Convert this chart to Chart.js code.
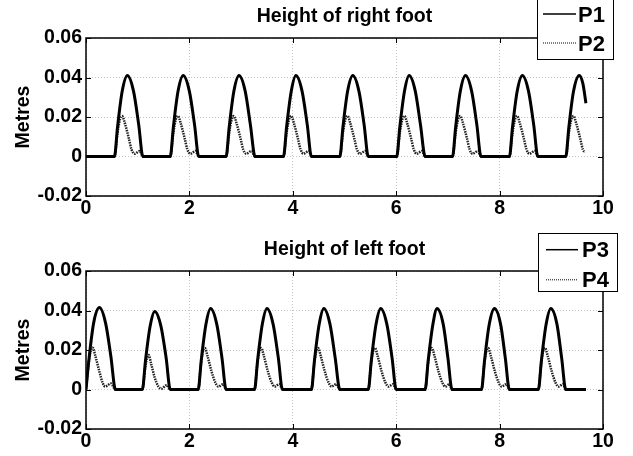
<!DOCTYPE html>
<html>
<head>
<meta charset="utf-8">
<title>Height of feet</title>
<script src="https://cdn.jsdelivr.net/npm/chart.js@4.4.0/dist/chart.umd.min.js"></script>
<style>
  html, body { margin: 0; padding: 0; background: #fff; overflow: hidden; }
  .panel { position: absolute; left: 0; width: 633px; height: 228px; }
  #top { top: 0; }
  #bottom { top: 233px; }
</style>
</head>
<body>
<div class="panel" id="top"><canvas id="rightChart" width="633" height="228"></canvas></div>
<div class="panel" id="bottom"><canvas id="leftChart" width="633" height="228"></canvas></div>
<script>
// x ticks (s) and y ticks (m)
const xTicks = [0, 2, 4, 6, 8, 10];
const yTicks = [-0.02, 0, 0.02, 0.04, 0.06];

// Right foot, P1 (solid) and P2 (dotted) - [time, height]
const rightP1 = [
  [0, 0],
  [0.55, 0], [0.61, 0.015], [0.70, 0.033], [0.80, 0.041], [0.92, 0.033], [1.02, 0.016], [1.10, 0],
  [1.63, 0], [1.69, 0.015], [1.78, 0.033], [1.88, 0.041], [2.00, 0.033], [2.10, 0.016], [2.18, 0],
  [2.71, 0], [2.77, 0.015], [2.86, 0.033], [2.96, 0.041], [3.08, 0.033], [3.18, 0.016], [3.27, 0],
  [3.82, 0], [3.88, 0.015], [3.97, 0.033], [4.06, 0.041], [4.18, 0.033], [4.28, 0.016], [4.36, 0],
  [4.91, 0], [4.97, 0.015], [5.06, 0.033], [5.16, 0.041], [5.28, 0.033], [5.38, 0.016], [5.46, 0],
  [6.01, 0], [6.07, 0.015], [6.16, 0.033], [6.25, 0.041], [6.37, 0.033], [6.47, 0.016], [6.56, 0],
  [7.09, 0], [7.15, 0.015], [7.24, 0.033], [7.34, 0.041], [7.46, 0.033], [7.56, 0.016], [7.64, 0],
  [8.19, 0], [8.25, 0.015], [8.34, 0.033], [8.44, 0.041], [8.56, 0.033], [8.66, 0.016], [8.74, 0],
  [9.28, 0], [9.34, 0.015], [9.43, 0.033], [9.54, 0.041], [9.61, 0.037], [9.67, 0.027]
];
const rightP2 = [
  [0, 0],
  [0.55, 0], [0.61, 0.012], [0.66, 0.019], [0.70, 0.0205], [0.75, 0.017], [0.83, 0.009], [0.88, 0.0036], [0.94, 0.0014], [1.04, 0.0028], [1.10, 0],
  [1.63, 0], [1.69, 0.012], [1.74, 0.019], [1.78, 0.0205], [1.83, 0.017], [1.91, 0.009], [1.96, 0.0036], [2.02, 0.0014], [2.12, 0.0028], [2.18, 0],
  [2.71, 0], [2.77, 0.012], [2.82, 0.019], [2.86, 0.0205], [2.91, 0.017], [2.99, 0.009], [3.04, 0.0036], [3.10, 0.0014], [3.20, 0.0028], [3.27, 0],
  [3.82, 0], [3.88, 0.012], [3.93, 0.019], [3.97, 0.0205], [4.02, 0.017], [4.10, 0.009], [4.15, 0.0036], [4.21, 0.0014], [4.31, 0.0028], [4.36, 0],
  [4.91, 0], [4.97, 0.012], [5.02, 0.019], [5.06, 0.0205], [5.11, 0.017], [5.19, 0.009], [5.24, 0.0036], [5.30, 0.0014], [5.40, 0.0028], [5.46, 0],
  [6.01, 0], [6.07, 0.012], [6.12, 0.019], [6.16, 0.0205], [6.21, 0.017], [6.29, 0.009], [6.34, 0.0036], [6.40, 0.0014], [6.50, 0.0028], [6.56, 0],
  [7.09, 0], [7.15, 0.012], [7.20, 0.019], [7.24, 0.0205], [7.29, 0.017], [7.37, 0.009], [7.42, 0.0036], [7.48, 0.0014], [7.58, 0.0028], [7.64, 0],
  [8.19, 0], [8.25, 0.012], [8.30, 0.019], [8.34, 0.0205], [8.39, 0.017], [8.47, 0.009], [8.52, 0.0036], [8.58, 0.0014], [8.68, 0.0028], [8.74, 0],
  [9.28, 0], [9.34, 0.012], [9.39, 0.019], [9.43, 0.0205], [9.48, 0.017], [9.56, 0.009], [9.61, 0.0036], [9.65, 0.002]
];

// Left foot, P3 (solid) and P4 (dotted)
const leftP3 = [
  [0, 0], [0.06, 0.016], [0.15, 0.034], [0.26, 0.0415], [0.38, 0.0335], [0.48, 0.017], [0.57, 0],
  [1.09, 0], [1.15, 0.0145], [1.24, 0.032], [1.33, 0.0395], [1.45, 0.032], [1.55, 0.016], [1.63, 0],
  [2.17, 0], [2.23, 0.015], [2.32, 0.033], [2.41, 0.041], [2.53, 0.033], [2.63, 0.016], [2.71, 0],
  [3.26, 0], [3.32, 0.015], [3.41, 0.033], [3.50, 0.041], [3.62, 0.033], [3.72, 0.016], [3.80, 0],
  [4.36, 0], [4.42, 0.015], [4.51, 0.033], [4.60, 0.041], [4.72, 0.033], [4.82, 0.016], [4.91, 0],
  [5.46, 0], [5.52, 0.015], [5.61, 0.033], [5.70, 0.041], [5.82, 0.033], [5.92, 0.016], [6.00, 0],
  [6.56, 0], [6.62, 0.015], [6.71, 0.033], [6.79, 0.041], [6.91, 0.033], [7.00, 0.016], [7.08, 0],
  [7.65, 0], [7.71, 0.015], [7.80, 0.033], [7.90, 0.041], [8.02, 0.033], [8.11, 0.016], [8.19, 0],
  [8.75, 0], [8.81, 0.015], [8.90, 0.033], [8.99, 0.041], [9.11, 0.033], [9.20, 0.016], [9.28, 0],
  [9.67, 0]
];
const leftP4 = [
  [0, 0], [0.05, 0.013], [0.09, 0.0195], [0.13, 0.0212], [0.18, 0.017], [0.26, 0.009], [0.32, 0.0035], [0.37, 0.0015], [0.48, 0.003], [0.57, 0],
  [1.09, 0], [1.14, 0.010], [1.18, 0.016], [1.21, 0.0175], [1.26, 0.013], [1.33, 0.006], [1.40, 0.0015], [1.46, 0.0004], [1.56, 0.0022], [1.63, 0],
  [2.17, 0], [2.22, 0.012], [2.26, 0.019], [2.30, 0.021], [2.35, 0.017], [2.43, 0.009], [2.50, 0.0036], [2.56, 0.0015], [2.65, 0.0027], [2.71, 0],
  [3.26, 0], [3.31, 0.012], [3.35, 0.019], [3.39, 0.021], [3.44, 0.017], [3.52, 0.009], [3.59, 0.0036], [3.65, 0.0015], [3.74, 0.0027], [3.80, 0],
  [4.36, 0], [4.41, 0.012], [4.45, 0.019], [4.49, 0.021], [4.54, 0.017], [4.62, 0.009], [4.69, 0.0036], [4.75, 0.0015], [4.84, 0.0027], [4.91, 0],
  [5.46, 0], [5.51, 0.012], [5.55, 0.019], [5.59, 0.021], [5.64, 0.017], [5.72, 0.009], [5.79, 0.0036], [5.85, 0.0015], [5.94, 0.0027], [6.00, 0],
  [6.56, 0], [6.61, 0.012], [6.65, 0.019], [6.69, 0.021], [6.74, 0.017], [6.82, 0.009], [6.89, 0.0036], [6.95, 0.0015], [7.03, 0.0027], [7.08, 0],
  [7.65, 0], [7.70, 0.012], [7.74, 0.019], [7.78, 0.021], [7.83, 0.017], [7.91, 0.009], [7.98, 0.0036], [8.04, 0.0015], [8.13, 0.0027], [8.19, 0],
  [8.75, 0], [8.80, 0.012], [8.84, 0.019], [8.88, 0.021], [8.93, 0.017], [9.01, 0.009], [9.08, 0.0036], [9.14, 0.0015], [9.23, 0.0027], [9.28, 0],
  [9.67, 0]
];

const FONT = '"Liberation Sans", Arial, sans-serif';

// box around the plot + inward tick marks (matlab style)
const framePlugin = {
  id: 'frame',
  afterDatasetsDraw(chart) {
    const { ctx, chartArea: a, scales: { x, y } } = chart;
    ctx.save();
    ctx.strokeStyle = '#000';
    ctx.lineWidth = 1;
    ctx.beginPath();
    x.ticks.forEach(t => {
      const px = Math.round(x.getPixelForValue(t.value)) + 0.5;
      ctx.moveTo(px, a.bottom); ctx.lineTo(px, a.bottom - 5);
      ctx.moveTo(px, a.top); ctx.lineTo(px, a.top + 5);
    });
    y.ticks.forEach(t => {
      const py = Math.round(y.getPixelForValue(t.value)) + 0.5;
      ctx.moveTo(a.left, py); ctx.lineTo(a.left + 5, py);
      ctx.moveTo(a.right, py); ctx.lineTo(a.right - 5, py);
    });
    ctx.stroke();
    ctx.lineWidth = 1.5;
    ctx.strokeRect(a.left, a.top, a.right - a.left, a.bottom - a.top);
    ctx.restore();
  }
};

// boxed legend sitting over the top-right corner
const boxLegend = {
  id: 'boxLegend',
  afterDraw(chart, args, opts) {
    const ctx = chart.ctx;
    ctx.save();
    ctx.fillStyle = '#fff';
    ctx.fillRect(opts.x, opts.y, opts.w, opts.h);
    ctx.strokeStyle = '#000';
    ctx.lineWidth = 1;
    ctx.strokeRect(opts.x + 0.5, opts.y + 0.5, opts.w, opts.h);
    chart.data.datasets.forEach((ds, i) => {
      const ly = opts.rows[i];
      ctx.beginPath();
      ctx.strokeStyle = i === 0 ? '#000' : '#555';
      ctx.lineWidth = 1.5;
      ctx.setLineDash(i === 0 ? [] : [1, 1]);
      ctx.moveTo(opts.lineX1, ly);
      ctx.lineTo(opts.lineX2, ly);
      ctx.stroke();
      ctx.setLineDash([]);
      ctx.fillStyle = '#000';
      ctx.font = 'bold 22px ' + FONT;
      ctx.textBaseline = 'middle';
      ctx.textAlign = 'left';
      ctx.fillText(ds.label, opts.textX, ly + 1.5);
    });
    ctx.restore();
  }
};

function toXY(arr) {
  return arr.map(p => ({ x: p[0], y: p[1] }));
}

function buildChart(canvasId, titleText, solid, dotted, names, legendOpts) {
  const canvas = document.getElementById(canvasId);
  const tickFont = { family: FONT, size: 19.5, weight: 'bold' };
  return new Chart(canvas.getContext('2d'), {
    type: 'line',
    data: {
      datasets: [{
        label: names[0],
        data: toXY(solid),
        borderColor: '#000',
        borderWidth: 3,
        pointRadius: 0,
        cubicInterpolationMode: 'monotone',
        fill: false
      }, {
        label: names[1],
        data: toXY(dotted),
        borderColor: '#222',
        borderWidth: 2.5,
        borderDash: [1.5, 1],
        pointRadius: 0,
        cubicInterpolationMode: 'monotone',
        fill: false
      }]
    },
    options: {
      responsive: false,
      animation: false,
      devicePixelRatio: 1,
      layout: { padding: { left: 0, right: 30, top: 0, bottom: 0 } },
      plugins: {
        legend: { display: false },
        tooltip: { enabled: false },
        title: {
          display: true,
          text: titleText,
          fullSize: false,
          color: '#000',
          font: tickFont,
          padding: { top: 5, bottom: 9.6 }
        },
        boxLegend: legendOpts
      },
      scales: {
        x: {
          type: 'linear',
          min: xTicks[0],
          max: xTicks[xTicks.length - 1],
          afterBuildTicks: s => { s.ticks = xTicks.map(v => ({ value: v })); },
          ticks: { color: '#000', font: tickFont, padding: 1, maxRotation: 0, autoSkip: false },
          grid: { color: '#c4c4c4', drawTicks: false },
          border: { display: false, dash: [1, 2] },
          afterFit: s => { s.height = 32; }
        },
        y: {
          type: 'linear',
          min: yTicks[0],
          max: yTicks[yTicks.length - 1],
          afterBuildTicks: s => { s.ticks = yTicks.map(v => ({ value: v })); },
          ticks: {
            color: '#000',
            font: tickFont,
            padding: 4,
            callback: v => (Math.abs(v) < 1e-9 ? '0' : v.toFixed(2))
          },
          grid: { color: '#c4c4c4', drawTicks: false },
          border: { display: false, dash: [1, 2] },
          title: {
            display: true,
            text: 'Metres',
            color: '#000',
            font: tickFont,
            padding: { top: 11.5, bottom: 0 }
          },
          afterFit: s => { s.width = 86; }
        }
      }
    },
    plugins: [framePlugin, boxLegend]
  });
}

try {
  buildChart('rightChart', 'Height of right foot', rightP1, rightP2, ['P1', 'P2'],
    { x: 537, y: -1, w: 76, h: 60, lineX1: 543, lineX2: 576, textX: 578, rows: [14, 43] });
  buildChart('leftChart', 'Height of left foot', leftP3, leftP4, ['P3', 'P4'],
    { x: 538, y: 0, w: 79, h: 58, lineX1: 546, lineX2: 578, textX: 582, rows: [16.7, 46.7] });
} catch (err) {
  console.error('Chart error:', err);
}
</script>
</body>
</html>
